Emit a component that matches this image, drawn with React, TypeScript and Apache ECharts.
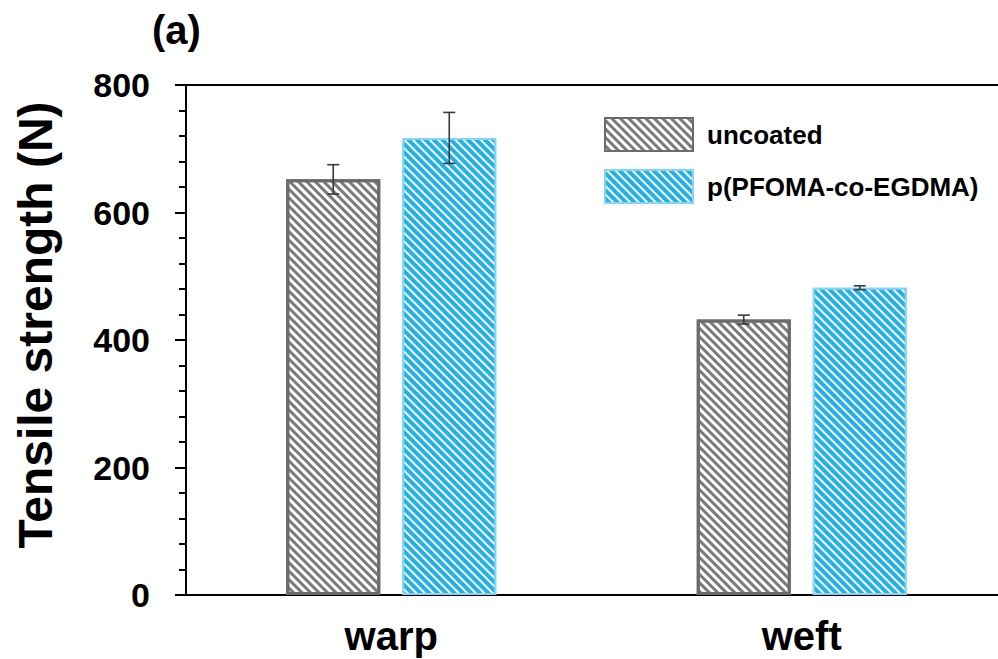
import React, { useEffect, useRef } from "react";
import * as echarts from "echarts";

const categories = ["warp", "weft"];
const uncoated = [652, 432];
const uncoatedErr = [23, 7];
const coated = [717, 482];
const coatedErr = [40, 3];
const yTicks = [0, 200, 400, 600, 800];
const seriesNames = ["uncoated", "p(PFOMA-co-EGDMA)"];

const FONT = "'Liberation Sans', Arial, Helvetica, sans-serif";
const BAR_W = 94;
const BAR_GAP = 22;

export default function App() {
  const ref = useRef<HTMLDivElement>(null);
  useEffect(() => {
    if (!ref.current) return;
    const chart = echarts.init(ref.current, undefined, { renderer: "svg" });
    const errData: number[][] = [];
    categories.forEach((_, i) => {
      errData.push([i, uncoated[i], uncoatedErr[i], 0]);
      errData.push([i, coated[i], coatedErr[i], 1]);
    });
    const option: any = {
      animation: false,
      backgroundColor: "#fff",
      textStyle: { fontFamily: FONT },
      grid: {
        left: 186,
        width: 821,
        top: 85,
        bottom: 64,
        show: true,
        borderColor: "#000",
        borderWidth: 2,
        containLabel: false,
        outerBoundsMode: "none",
      },
      legend: {
        orient: "vertical",
        left: 599,
        top: 112,
        itemWidth: 88,
        itemHeight: 33,
        itemGap: 17,
        icon: "rect",
        data: seriesNames,
        textStyle: { fontFamily: FONT, fontSize: 26, fontWeight: "bold", color: "#000", padding: [0, 0, 0, 9] },
      },
      xAxis: {
        type: "category",
        data: categories,
        axisLine: { lineStyle: { color: "#000", width: 2 } },
        axisTick: { show: false },
        axisLabel: { fontFamily: FONT, fontSize: 40, fontWeight: "bold", color: "#000", margin: 21 },
      },
      yAxis: {
        type: "value",
        min: yTicks[0],
        max: yTicks[yTicks.length - 1],
        interval: 200,
        splitLine: { show: false },
        axisLine: { show: true, lineStyle: { color: "#000", width: 2 } },
        axisTick: { show: true, length: 11, inside: false, lineStyle: { color: "#000", width: 2 } },
        minorTick: { show: true, splitNumber: 5, length: 7, lineStyle: { color: "#000", width: 2 } },
        axisLabel: { fontFamily: FONT, fontSize: 34, fontWeight: "bold", color: "#000", margin: 36 },
      },
      graphic: [
        {
          type: "text",
          left: 152,
          top: 10,
          style: { text: "(a)", font: `bold 40px ${FONT}`, fill: "#000" },
        },
        {
          type: "text",
          x: 35,
          y: 325,
          rotation: Math.PI / 2,
          style: {
            text: "Tensile strength (N)",
            font: `bold 48px ${FONT}`,
            fill: "#000",
            align: "center",
            verticalAlign: "middle",
          },
        },
      ],
      series: [
        {
          name: seriesNames[0],
          type: "bar",
          data: uncoated,
          barWidth: BAR_W,
          barGap: `${(BAR_GAP / BAR_W) * 100}%`,
          itemStyle: {
            color: "#ffffff",
            borderColor: "#6b6b6b",
            borderWidth: 3,
            decal: {
              symbol: "rect",
              symbolSize: 1,
              color: "#7a7a7a",
              backgroundColor: "#ffffff",
              dashArrayX: [1, 0],
              dashArrayY: [3, 3],
              rotation: Math.PI / 4,
            },
          },
        },
        {
          name: seriesNames[1],
          type: "bar",
          data: coated,
          barWidth: BAR_W,
          itemStyle: {
            color: "#ffffff",
            borderColor: "#86d6f3",
            borderWidth: 2,
            decal: {
              symbol: "rect",
              symbolSize: 1,
              color: "#22b1e6",
              backgroundColor: "#ffffff",
              dashArrayX: [1, 0],
              dashArrayY: [4, 2],
              rotation: Math.PI / 4,
            },
          },
        },
        {
          type: "custom",
          name: "err",
          data: errData,
          z: 10,
          silent: true,
          encode: { x: 0, y: 1 },
          renderItem: (params: any, api: any) => {
            const cat = api.value(0);
            const v = api.value(1);
            const e = api.value(2);
            const s = api.value(3);
            const off = (s === 0 ? -1 : 1) * (BAR_W + BAR_GAP) / 2;
            const top = api.coord([cat, v + e]);
            const bot = api.coord([cat, v - e]);
            const x = top[0] + off;
            const cap = 6;
            const style = { stroke: "#3a3a3a", lineWidth: 1.6 };
            return {
              type: "group",
              children: [
                { type: "line", shape: { x1: x, y1: top[1], x2: x, y2: bot[1] }, style },
                { type: "line", shape: { x1: x - cap, y1: top[1], x2: x + cap, y2: top[1] }, style },
                { type: "line", shape: { x1: x - cap, y1: bot[1], x2: x + cap, y2: bot[1] }, style },
              ],
            };
          },
        },
      ],
    };
    chart.setOption(option);
    return () => chart.dispose();
  }, []);
  return <div ref={ref} style={{ position: "fixed", left: 0, top: 0, width: 998, height: 659 }} />;
}
